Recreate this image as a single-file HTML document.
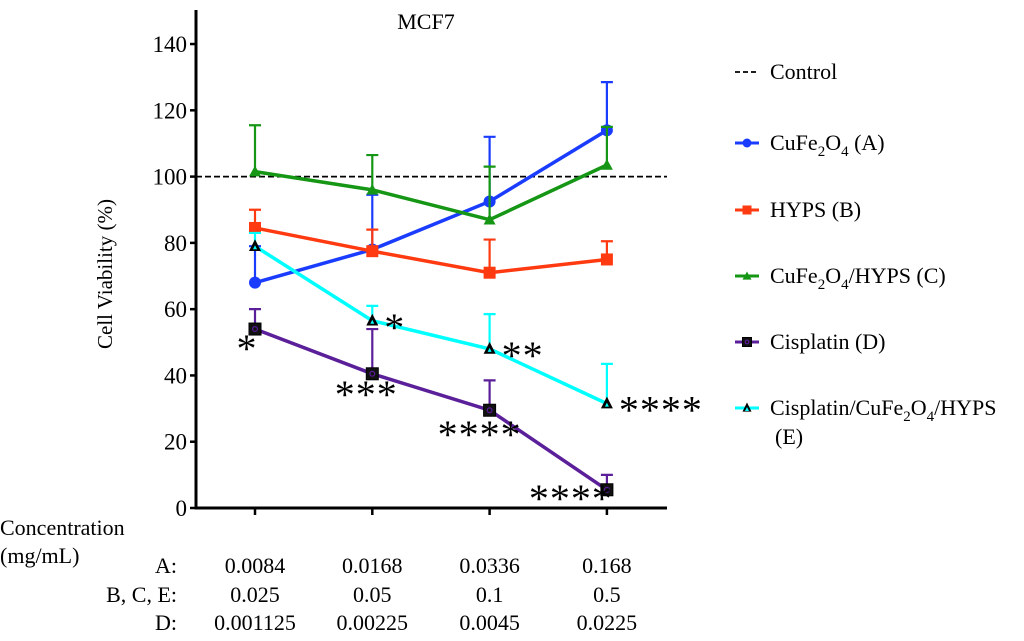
<!DOCTYPE html>
<html><head><meta charset="utf-8"><style>
body{margin:0;background:#fff}
svg{font-family:"Liberation Serif",serif}
</style></head><body>
<svg id="c" width="1024" height="636" viewBox="0 0 1024 636" xmlns="http://www.w3.org/2000/svg">
<text x="426" y="29" font-size="22" text-anchor="middle">MCF7</text>
<text transform="translate(112,274) rotate(-90)" font-size="21" text-anchor="middle">Cell Viability (%)</text>
<g id="axes"></g>
<g id="marks"></g>
<g id="xl" font-size="22">
<text x="0" y="535">Concentration</text>
<text x="0" y="563">(mg/mL)</text>
<text x="177" y="573" text-anchor="end">A:</text>
<text x="177" y="602" text-anchor="end">B, C, E:</text>
<text x="177" y="630" text-anchor="end">D:</text>
</g>
<g id="legend" font-size="22"></g>
</svg>
<script>
const rowA = ["0.0084","0.0168","0.0336","0.168"];
const rowBCE = ["0.025","0.05","0.1","0.5"];
const rowD = ["0.001125","0.00225","0.0045","0.0225"];
const yTicks = [0,20,40,60,80,100,120,140];
const controlValue = 100;
const valA = [68,78,92.5,114];
const errA = [79,94.5,112,128.5];
const valB = [84.5,77.5,71,75];
const errB = [90,84,81,80.5];
const valC = [101.5,96,87,103.5];
const errC = [115.5,106.5,103,115];
const valD = [54,40.5,29.5,5.5];
const errD = [60,54,38.5,10];
const valE = [79,56.5,48,31.5];
const errE = [83,61,58.5,43.5];
const sigD = ["*","***","****","****"];
const sigE = ["","*","**","****"];

const NS="http://www.w3.org/2000/svg";
const X0=196,X1=667,Y0=508,PX=3.314;
const xs=i=>255+i*117.3;
const ys=v=>Y0-v*PX;
function mk(p,t,a){const e=document.createElementNS(NS,t);for(const k in a)e.setAttribute(k,a[k]);p.appendChild(e);return e;}
const axes=document.getElementById('axes'),marks=document.getElementById('marks'),xl=document.getElementById('xl'),lg=document.getElementById('legend');

let e=mk(axes,'line',{x1:X0,y1:10,x2:X0,y2:Y0+1.5,stroke:'#000','stroke-width':3});

e=mk(axes,'line',{x1:X0-1.5,y1:Y0,x2:X1,y2:Y0,stroke:'#000','stroke-width':3});

yTicks.forEach(v=>{
  e=mk(axes,'line',{x1:X0-6,y1:ys(v),x2:X0,y2:ys(v),stroke:'#000','stroke-width':2.5});
  
  e=mk(axes,'text',{x:X0-9,y:ys(v)+8,'font-size':23,'text-anchor':'end'});e.textContent=v;
  
});
rowA.forEach((s,i)=>{
  e=mk(axes,'line',{x1:xs(i),y1:Y0,x2:xs(i),y2:Y0+7,stroke:'#000','stroke-width':2.5});
  
  [[rowA,573],[rowBCE,602],[rowD,630]].forEach(([arr,y])=>{
    const t=mk(xl,'text',{x:xs(i),y:y,'text-anchor':'middle'});t.textContent=arr[i];
    
  });
});
e=mk(marks,'line',{x1:X0,y1:ys(controlValue),x2:X1,y2:ys(controlValue),stroke:'#000','stroke-width':1.8,'stroke-dasharray':'6,3'});


function marker(g,type,x,y,col,s){
  let m;s=s||6;
  if(type==='circle') m=mk(g,'circle',{cx:x,cy:y,r:s,fill:col});
  else if(type==='square') m=mk(g,'rect',{x:x-s,y:y-s,width:2*s,height:2*s,fill:col});
  else if(type==='tri') m=mk(g,'path',{d:`M${x},${y-s}L${x+s},${y+s*0.8}L${x-s},${y+s*0.8}Z`,fill:col});
  else if(type==='dsq'){m=mk(g,'rect',{x:x-s,y:y-s,width:2*s,height:2*s,fill:'#111',stroke:'#000','stroke-width':1});
    mk(g,'circle',{cx:x,cy:y,r:s*0.4,fill:'none',stroke:'#5a1a9a','stroke-width':1.2});}
  else if(type==='etri'){m=mk(g,'path',{d:`M${x},${y-s-1}L${x+s},${y+s*0.8}L${x-s},${y+s*0.8}Z`,fill:'#000'});
    mk(g,'path',{d:`M${x},${y-1}L${x+2},${y+3}L${x-2},${y+3}Z`,fill:'#0ff'});}
  return m;
}
const series=[
 {n:'cufe2o4-a',v:valA,er:errA,c:'#1a3cff',m:'circle'},
 {n:'hyps-b',v:valB,er:errB,c:'#ff3a10',m:'square'},
 {n:'cufe2o4-hyps-c',v:valC,er:errC,c:'#159615',m:'tri'},
 {n:'cisplatin-d',v:valD,er:errD,c:'#5b1f9a',m:'dsq'},
 {n:'cisplatin-cufe2o4-hyps-e',v:valE,er:errE,c:'#00ffff',m:'etri'}];
series.forEach(s=>{
  const g=mk(marks,'g',{});
  
  s.v.forEach((v,i)=>{
    const b=mk(g,'path',{d:`M${xs(i)},${ys(v)}V${ys(s.er[i])}M${xs(i)-6},${ys(s.er[i])}H${xs(i)+6}`,stroke:s.c,'stroke-width':2.2,fill:'none'});
    
  });
  const l=mk(g,'polyline',{points:s.v.map((v,i)=>xs(i)+','+ys(v)).join(' '),fill:'none',stroke:s.c,'stroke-width':3.5});
  
  s.v.forEach((v,i)=>{
    const m=marker(g,s.m,xs(i),ys(v),s.c);
    
  });
});
const offD=[[-8,33],[-6,34],[-10,38],[-36,22]];
sigD.forEach((s,i)=>{if(!s)return;
  const t=mk(marks,'text',{x:xs(i)+offD[i][0],y:ys(valD[i])+offD[i][1],'font-size':40,'text-anchor':'middle','letter-spacing':'1'});t.textContent=s;
  });
sigE.forEach((s,i)=>{if(!s)return;
  const t=mk(marks,'text',{x:xs(i)+12,y:ys(valE[i])+20,'font-size':40,'letter-spacing':'1'});t.textContent=s;
  });

const LG=[
 {y:72,c:'#000',m:null,t:'Control',dash:true},
 {y:143,c:'#1a3cff',m:'circle',t:'CuFe<tspan font-size="15" dy="6">2</tspan><tspan dy="-6">O</tspan><tspan font-size="15" dy="6">4</tspan><tspan dy="-6"> (A)</tspan>'},
 {y:210,c:'#ff3a10',m:'square',t:'HYPS (B)'},
 {y:276,c:'#159615',m:'tri',t:'CuFe<tspan font-size="15" dy="6">2</tspan><tspan dy="-6">O</tspan><tspan font-size="15" dy="6">4</tspan><tspan dy="-6">/HYPS (C)</tspan>'},
 {y:342,c:'#5b1f9a',m:'dsq',t:'Cisplatin (D)'},
 {y:408,c:'#00ffff',m:'etri',t:'Cisplatin/CuFe<tspan font-size="15" dy="6">2</tspan><tspan dy="-6">O</tspan><tspan font-size="15" dy="6">4</tspan><tspan dy="-6">/HYPS</tspan>'}];
LG.forEach(L=>{
  const g=mk(lg,'g',{});
  
  mk(g,'line',{x1:735,y1:L.y,x2:759,y2:L.y,stroke:L.c,'stroke-width':L.dash?1.8:3,'stroke-dasharray':L.dash?'5,3':'none'});
  if(L.m){marker(g,L.m,747,L.y,L.c,4.5);}
  const t=mk(g,'text',{x:770,y:L.y+7});t.innerHTML=L.t;
});
e=mk(lg,'text',{x:775,y:444});e.textContent='(E)';

</script>
</body></html>
